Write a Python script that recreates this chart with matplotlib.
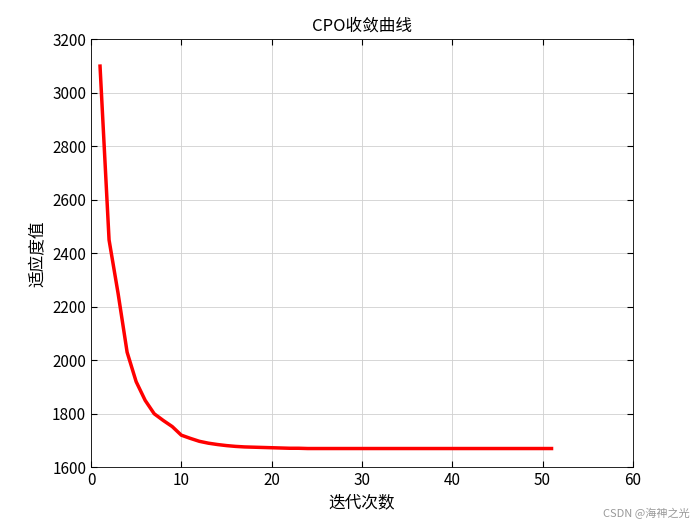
import matplotlib
matplotlib.use("Agg")
import matplotlib.pyplot as plt
import numpy as np

plt.rcParams['font.family'] = ['Noto Sans CJK SC', 'DejaVu Sans']

iters = list(range(1, 52))
head = [3100, 2450, 2250, 2030, 1920, 1850, 1800, 1775, 1752, 1720,
        1708, 1697, 1690, 1685, 1681, 1678, 1676, 1675, 1674, 1673,
        1672, 1671, 1671, 1670, 1670]
fitness = head + [1670] * (51 - len(head))

fig = plt.figure(figsize=(7, 5.25), dpi=100)
ax = fig.add_axes([0.13, 0.11, 0.774, 0.815])
ax.plot(iters, fitness, color='red', lw=2.5)
ax.set_xlim(0, 60)
ax.set_ylim(1600, 3200)
ax.set_xticks(range(0, 61, 10))
ax.set_yticks(range(1600, 3201, 200))
ax.grid(True, color='#d0d0d0', lw=0.6)
ax.tick_params(direction='in', labelsize=11, top=True, right=True, length=4)
for s in ax.spines.values():
    s.set_linewidth(0.6)
ax.set_title('CPO收敛曲线', fontsize=12)
ax.set_xlabel('迭代次数', fontsize=12)
ax.set_ylabel('适应度值', fontsize=12)
fig.text(0.985, 0.012, 'CSDN @海神之光', ha='right', va='bottom', fontsize=8, color='#999999')
fig.savefig('out.png', dpi=100)
